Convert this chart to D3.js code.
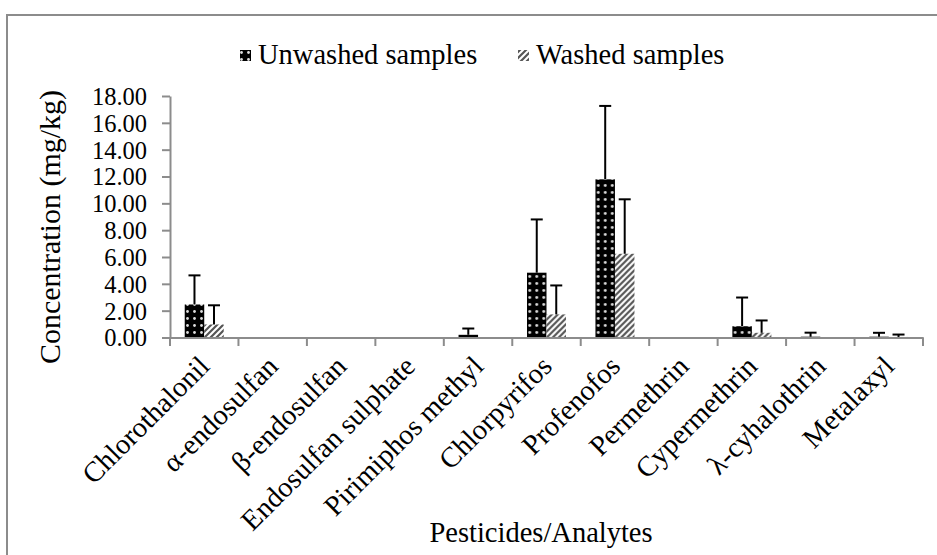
<!DOCTYPE html>
<html>
<head>
<meta charset="utf-8">
<script src="https://cdn.jsdelivr.net/npm/d3@7"></script>
<style>
  body { margin: 0; background: #fff; }
  svg { display: block; }
  text { font-family: "Liberation Serif", "Times New Roman", serif; fill: #000; }
</style>
</head>
<body>
<svg id="chart"></svg>
<script>
const categories = ["Chlorothalonil", "α-endosulfan", "β-endosulfan", "Endosulfan sulphate",
  "Pirimiphos methyl", "Chlorpyrifos", "Profenofos", "Permethrin", "Cypermethrin",
  "λ-cyhalothrin", "Metalaxyl"];
const series = ["Unwashed samples", "Washed samples"];
const unwashed = [2.46, 0, 0, 0, 0.2, 4.83, 11.79, 0, 0.84, 0.06, 0.06];
const unwashedErr = [2.17, 0, 0, 0, 0.47, 3.97, 5.47, 0, 2.14, 0.3, 0.29];
const washed = [0.97, 0, 0, 0, 0, 1.72, 6.24, 0, 0.35, 0, 0.04];
const washedErr = [1.43, 0, 0, 0, 0, 2.16, 4.06, 0, 0.92, 0, 0.18];
const yTicks = [0, 2, 4, 6, 8, 10, 12, 14, 16, 18];

const width = 937, height = 555;
const svg = d3.select("#chart").attr("width", width).attr("height", height);

const defs = svg.append("defs");
const dots = defs.append("pattern")
    .attr("id", "dots")
    .attr("patternUnits", "userSpaceOnUse")
    .attr("width", 7).attr("height", 7);
dots.append("rect").attr("width", 7).attr("height", 7).attr("fill", "#000");
dots.append("circle").attr("cx", 3.5).attr("cy", 3.5).attr("r", 1.4).attr("fill", "#ddd");

const hatch = defs.append("pattern")
    .attr("id", "hatch")
    .attr("patternUnits", "userSpaceOnUse")
    .attr("width", 6).attr("height", 6);
hatch.append("rect").attr("width", 6).attr("height", 6).attr("fill", "#fff");
hatch.append("path")
    .attr("d", "M-1,1 l2,-2 M0,6 l6,-6 M5,7 l2,-2")
    .attr("stroke", "#555").attr("stroke-width", 2.2);

const fills = {"Unwashed samples": "url(#dots)", "Washed samples": "url(#hatch)"};

// frame
svg.append("rect")
    .attr("x", 7).attr("y", 15)
    .attr("width", 940).attr("height", 560)
    .attr("fill", "none").attr("stroke", "#8c8c8c").attr("stroke-width", 2);

const x = d3.scaleBand().domain(categories).range([170, 923]);
const x1 = d3.scaleBand().domain(series)
    .range([x.bandwidth() / 2 - 19.5, x.bandwidth() / 2 + 19.5]);
const y = d3.scaleLinear().domain([0, 18]).range([337.5, 96]);

// y axis
const yAxis = svg.append("g")
    .attr("transform", "translate(170,0)")
    .call(d3.axisLeft(y).tickValues(yTicks).tickFormat(d3.format(".2f")).tickSize(8).tickSizeOuter(0).tickPadding(15));
yAxis.select(".domain").attr("stroke", "#8c8c8c").attr("stroke-width", 2);
yAxis.selectAll(".tick line").attr("stroke", "#8c8c8c").attr("stroke-width", 2);
yAxis.selectAll(".tick text")
    .attr("font-size", 24.5).attr("fill", "#000").attr("dy", "0.34em");

// bars
const rows = categories.map((c, i) => ({
  cat: c,
  vals: [
    {s: series[0], v: unwashed[i], e: unwashedErr[i]},
    {s: series[1], v: washed[i], e: washedErr[i]}
  ]
}));

const groups = svg.append("g").selectAll("g")
    .data(rows).enter().append("g")
    .attr("transform", d => `translate(${x(d.cat)},0)`);

groups.selectAll("rect")
    .data(d => d.vals).enter().append("rect")
    .attr("x", d => x1(d.s))
    .attr("width", x1.bandwidth())
    .attr("y", d => y(d.v))
    .attr("height", d => y(0) - y(d.v))
    .attr("fill", d => fills[d.s]);

const err = groups.selectAll("g.err")
    .data(d => d.vals.filter(v => v.e > 0)).enter().append("g")
    .attr("class", "err")
    .attr("stroke", "#000").attr("stroke-width", 2);
err.append("line")
    .attr("x1", d => x1(d.s) + x1.bandwidth() / 2)
    .attr("x2", d => x1(d.s) + x1.bandwidth() / 2)
    .attr("y1", d => y(d.v))
    .attr("y2", d => y(d.v + d.e));
err.append("line")
    .attr("x1", d => x1(d.s) + x1.bandwidth() / 2 - 6)
    .attr("x2", d => x1(d.s) + x1.bandwidth() / 2 + 6)
    .attr("y1", d => y(d.v + d.e))
    .attr("y2", d => y(d.v + d.e));

// x axis
const xAxis = svg.append("g")
    .attr("transform", `translate(0,${y(0)})`)
    .call(d3.axisBottom(x).tickSize(0).tickFormat(""));
xAxis.select(".domain").attr("stroke", "#8c8c8c").attr("stroke-width", 2);
const bounds = categories.map(c => x(c)).concat([x.range()[1]]);
svg.append("g").selectAll("line")
    .data(bounds).enter().append("line")
    .attr("x1", d => d).attr("x2", d => d)
    .attr("y1", y(0)).attr("y2", y(0) + 8.5)
    .attr("stroke", "#8c8c8c").attr("stroke-width", 2);

svg.append("g").selectAll("text")
    .data(categories).enter().append("text")
    .attr("transform", d => `translate(${x(d) + x.bandwidth() / 2 + 7},368) rotate(-45)`)
    .attr("text-anchor", "end")
    .attr("font-size", 28.5)
    .text(d => d);

// axis titles
svg.append("text")
    .attr("transform", "translate(60,227) rotate(-90)")
    .attr("text-anchor", "middle")
    .attr("font-size", 30)
    .text("Concentration (mg/kg)");

svg.append("text")
    .attr("x", 541).attr("y", 542)
    .attr("text-anchor", "middle")
    .attr("font-size", 28.5)
    .text("Pesticides/Analytes");

// legend
const legend = svg.append("g");
const legendPos = [{s: series[0], x: 240}, {s: series[1], x: 518}];
legend.selectAll("rect")
    .data(legendPos).enter().append("rect")
    .attr("x", d => d.x).attr("y", 50)
    .attr("width", 11).attr("height", 11)
    .attr("fill", d => fills[d.s]);
legend.selectAll("text")
    .data(legendPos).enter().append("text")
    .attr("x", d => d.x + 18).attr("y", 64)
    .attr("font-size", 28.5)
    .text(d => d.s);
</script>
</body>
</html>
